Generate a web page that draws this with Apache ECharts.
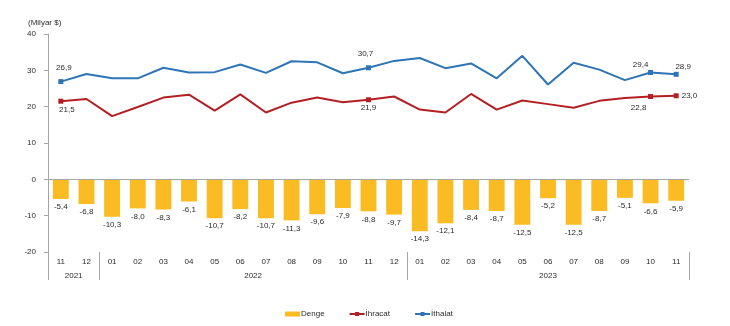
<!DOCTYPE html>
<html>
<head>
<meta charset="utf-8">
<script src="https://cdn.jsdelivr.net/npm/echarts@6/dist/echarts.min.js"></script>
<style>
  html, body { margin: 0; padding: 0; background: #fff; }
  #chart { width: 730px; height: 326px; }
</style>
</head>
<body>
<div id="chart"></div>
<script>
// Months from 2021-11 to 2023-11
const months = ['11','12','01','02','03','04','05','06','07','08','09','10','11','12',
                '01','02','03','04','05','06','07','08','09','10','11'];
const yearNames = ['2021', '2022', '2023'];
const yearMonthCounts = [2, 12, 11];

// Billion USD
const denge   = [-5.4, -6.8, -10.3, -8.0, -8.3, -6.1, -10.7, -8.2, -10.7, -11.3, -9.6, -7.9, -8.8, -9.7,
                 -14.3, -12.1, -8.4, -8.7, -12.5, -5.2, -12.5, -8.7, -5.1, -6.6, -5.9];
const ihracat = [21.5, 22.1, 17.4, 19.9, 22.5, 23.3, 18.9, 23.4, 18.4, 21.1, 22.5, 21.2, 21.9,
                 22.8, 19.2, 18.4, 23.5, 19.2, 21.7, 20.7, 19.7, 21.6, 22.4, 22.8, 23.0];
const ithalat = [26.9, 29.0, 27.8, 27.8, 30.7, 29.4, 29.5, 31.6, 29.3, 32.5, 32.2, 29.2, 30.7,
                 32.6, 33.4, 30.6, 31.9, 27.8, 34.0, 26.1, 32.1, 30.2, 27.3, 29.4, 28.9];

const yMin = -20, yMax = 40, yStep = 10;
const markedPoints = [0, 12, 23, 24];   // points shown with marker + value

const FONT = "'Liberation Sans', Arial, sans-serif";
const FS = 8;
const TEXT = '#2b2b2b';
const AXIS = '#a6a6a6';
const fmt = v => v.toFixed(1).replace('.', ',');

// Label placement for the marked points
const ithalatLabelPos = {
  0:  { position: 'top', distance: 7, offset: [3, 0] },
  12: { position: 'top', distance: 7, offset: [-3, 0] },
  23: { position: 'top', distance: 1, offset: [-10, 0] },
  24: { position: 'top', distance: 1, offset: [7, 0] }
};
const ihracatLabelPos = {
  0:  { position: 'bottom', distance: 2, offset: [6, 0] },
  12: { position: 'bottom', distance: 2, offset: [0, 0] },
  23: { position: 'bottom', distance: 5, offset: [-12, 0] },
  24: { position: 'right', distance: 3, offset: [0, 0] }
};

function lineData(values, labelPos) {
  return values.map((v, i) => {
    if (markedPoints.indexOf(i) < 0) return { value: v, symbolSize: 0 };
    return {
      value: v,
      symbolSize: 5,
      label: Object.assign({ show: true, formatter: p => fmt(p.value) }, labelPos[i])
    };
  });
}

// Half-month slots: year labels sit at the middle of each year's run of months
const yearSlots = new Array(months.length * 2 + 1).fill('');
let start = 0;
yearNames.forEach((y, k) => {
  yearSlots[start * 2 + yearMonthCounts[k]] = y;
  start += yearMonthCounts[k];
});
// Boundaries where a new year group begins
const groupStarts = [];
start = 0;
yearMonthCounts.forEach(c => { groupStarts.push(start); start += c; });

const chart = echarts.init(document.getElementById('chart'));
chart.setOption({
  animation: false,
  textStyle: { fontFamily: FONT },
  title: {
    text: '(Milyar $)', left: 23, top: 14,
    textStyle: { fontSize: FS, fontWeight: 'normal', color: TEXT, fontFamily: FONT }
  },
  grid: { left: 48, right: 41, top: 34, bottom: 74 },
  legend: {
    left: 280, top: 305,
    itemWidth: 15, itemHeight: 5, itemGap: 24,
    textStyle: { fontSize: FS, color: TEXT, fontFamily: FONT, padding: [0, 0, 0, -4] },
    data: [
      { name: 'Denge', icon: 'rect' },
      { name: 'İhracat' },
      { name: 'İthalat' }
    ]
  },
  xAxis: [
    {
      type: 'category', data: months, position: 'bottom',
      axisLine: { show: false, onZero: false }, axisTick: { show: false },
      axisLabel: { interval: 0, margin: 6, fontSize: FS, color: TEXT, fontFamily: FONT }
    },
    {
      type: 'category', data: months, position: 'bottom',
      axisLine: { show: false, onZero: false },
      axisLabel: { show: false },
      axisTick: {
        show: true, length: 28,
        interval: i => groupStarts.indexOf(i) >= 0,
        lineStyle: { color: AXIS, width: 1 }
      }
    },
    {
      type: 'category', data: yearSlots, position: 'bottom', boundaryGap: false,
      axisLine: { show: false, onZero: false }, axisTick: { show: false },
      axisLabel: { interval: 0, margin: 20, fontSize: FS, color: TEXT, fontFamily: FONT }
    }
  ],
  yAxis: {
    type: 'value', min: yMin, max: yMax, interval: yStep,
    axisLine: { show: true, lineStyle: { color: AXIS } },
    axisTick: { show: true, length: 4, lineStyle: { color: AXIS } },
    splitLine: { show: false },
    axisLabel: { margin: 12, fontSize: FS, color: TEXT, fontFamily: FONT }
  },
  series: [
    {
      name: 'Denge', type: 'bar', data: denge, barWidth: '62%',
      itemStyle: { color: '#fbbb22' },
      label: {
        show: true, position: 'bottom', distance: 4,
        fontSize: FS, color: TEXT, fontFamily: FONT,
        formatter: p => fmt(p.value)
      },
      markLine: {
        silent: true, symbol: 'none', label: { show: false },
        lineStyle: { color: AXIS, width: 1, type: 'solid' },
        data: [{ yAxis: 0 }]
      },
      z: 1
    },
    {
      name: 'İhracat', type: 'line', data: lineData(ihracat, ihracatLabelPos),
      symbol: 'rect', showAllSymbol: true,
      itemStyle: { color: '#b41f24' },
      lineStyle: { color: '#b41f24', width: 2 },
      label: { fontSize: FS, color: TEXT, fontFamily: FONT },
      z: 3
    },
    {
      name: 'İthalat', type: 'line', data: lineData(ithalat, ithalatLabelPos),
      symbol: 'rect', showAllSymbol: true,
      itemStyle: { color: '#2e75b6' },
      lineStyle: { color: '#2e75b6', width: 2 },
      label: { fontSize: FS, color: TEXT, fontFamily: FONT },
      z: 3
    }
  ]
});
</script>
</body>
</html>
